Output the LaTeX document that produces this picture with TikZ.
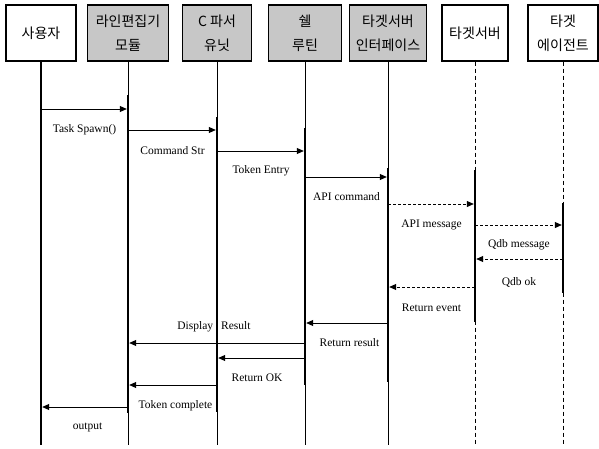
\documentclass[tikz,border=0pt]{standalone}
\usepackage{fontspec}
\setmainfont{Liberation Serif}
\newfontfamily\krfont{Noto Sans CJK KR}
\usetikzlibrary{arrows.meta}
\tikzset{
Boite/.style={
 draw=black, 
 line width=1.1pt, 
 fill=white, 
 minimum height=56pt, 
 inner sep=1pt, 
 align=center, 
 font=\krfont\fontsize{14}{24}\selectfont
 },
GBoite/.style={
 Boite, 
 fill=black!22
 },
Vie/.style={
 draw=black, 
 line width=0.7pt
 },
DVie/.style={
 draw=black, 
 line width=0.7pt, 
 dash pattern=on 4pt off 3pt
 },
Barre/.style={
 draw=black, 
 line width=2.4pt
 },
Fleche/.style={
 draw=black, 
 line width=0.8pt, 
 shorten >=1.2pt, 
 -{Triangle[length=7pt,width=6pt]}
 },
DFleche/.style={
 Fleche, 
 dash pattern=on 3pt off 2pt
 },
Texte/.style={
 font=\fontsize{11.5}{13}\selectfont, 
 inner sep=1pt
 }
}
\begin{document}
\begin{tikzpicture}[x=1pt,y=-1pt]
\useasboundingbox (0,0) rectangle (599,448);
% boites
\node[Boite, minimum width=70pt] (user) at (41,33) {사용자};
\node[GBoite, minimum width=81pt] (editor) at (128,33) {라인편집기\\모듈};
\node[GBoite, minimum width=69pt] (parser) at (217,33) {C 파서\\유닛};
\node[GBoite, minimum width=73pt] (shell) at (305,33) {쉘\\루틴};
\node[GBoite, minimum width=77pt] (tsif) at (388,33) {타겟서버\\인터페이스};
\node[Boite, minimum width=66pt] (tserver) at (475,33) {타겟서버};
\node[Boite, minimum width=70pt] (agent) at (563,33) {타겟\\에이전트};
% lignes de vie
\draw[Barre] (user.south) -- (user |- 0,445);
\draw[Vie] (editor.south) -- (editor |- 0,445);
\draw[Vie] (parser.south) -- (parser |- 0,445);
\draw[Vie] (shell.south) -- (shell |- 0,445);
\draw[Vie] (tsif.south) -- (tsif |- 0,445);
\draw[DVie] (tserver.south) -- (tserver |- 0,444);
\draw[DVie] (agent.south) -- (agent |- 0,444);
% activations
\draw[Barre] (editor |- 0,95) -- (editor |- 0,413);
\draw[Barre] (parser |- 0,117) -- (parser |- 0,412);
\draw[Barre] (shell |- 0,128) -- (shell |- 0,385);
\draw[Barre] (tsif |- 0,168) -- (tsif |- 0,382);
\draw[Barre] (tserver |- 0,170) -- (tserver |- 0,322);
\draw[Barre] (agent |- 0,203) -- (agent |- 0,293);
% messages
\draw[Fleche] (user |- 0,109) -- (editor |- 0,109) node[Texte, midway, yshift=-21pt] {Task Spawn()};
\draw[Fleche] (editor |- 0,130) -- (parser |- 0,130) node[Texte, midway, yshift=-21pt] {Command Str};
\draw[Fleche] (parser |- 0,151) -- (shell |- 0,151) node[Texte, midway, yshift=-20pt] {Token Entry};
\draw[Fleche] (shell |- 0,177) -- (tsif |- 0,177) node[Texte, midway, yshift=-20pt] {API command};
\draw[DFleche] (tsif |- 0,204) -- (tserver |- 0,204) node[Texte, midway, yshift=-21pt] {API message};
\draw[DFleche] (tserver |- 0,225) -- (agent |- 0,225) node[Texte, midway, yshift=-20pt] {Qdb message};
\draw[DFleche] (agent |- 0,259) -- (tserver |- 0,259) node[Texte, midway, yshift=-23pt] {Qdb ok};
\draw[DFleche] (tserver |- 0,287) -- (tsif |- 0,287) node[Texte, midway, yshift=-21pt] {Return event};
\draw[Fleche] (tsif |- 0,323) -- (shell |- 0,323) node[Texte, midway, yshift=-20pt, xshift=3pt] {Return result};
\draw[Fleche] (shell |- 0,343) -- (editor |- 0,343);
\node[Texte] (disp) at (214,327) {Display\hspace{8pt}Result};
\draw[Fleche] (shell |- 0,358) -- (parser |- 0,358) node[Texte, midway, yshift=-20pt, xshift=-4pt] {Return OK};
\draw[Fleche] (parser |- 0,385) -- (editor |- 0,385) node[Texte, midway, yshift=-21pt, xshift=3pt] {Token complete};
\draw[Fleche] (editor |- 0,407) -- (user |- 0,407) node[Texte, midway, yshift=-20pt, xshift=3pt] {output};
\end{tikzpicture}
\end{document}
